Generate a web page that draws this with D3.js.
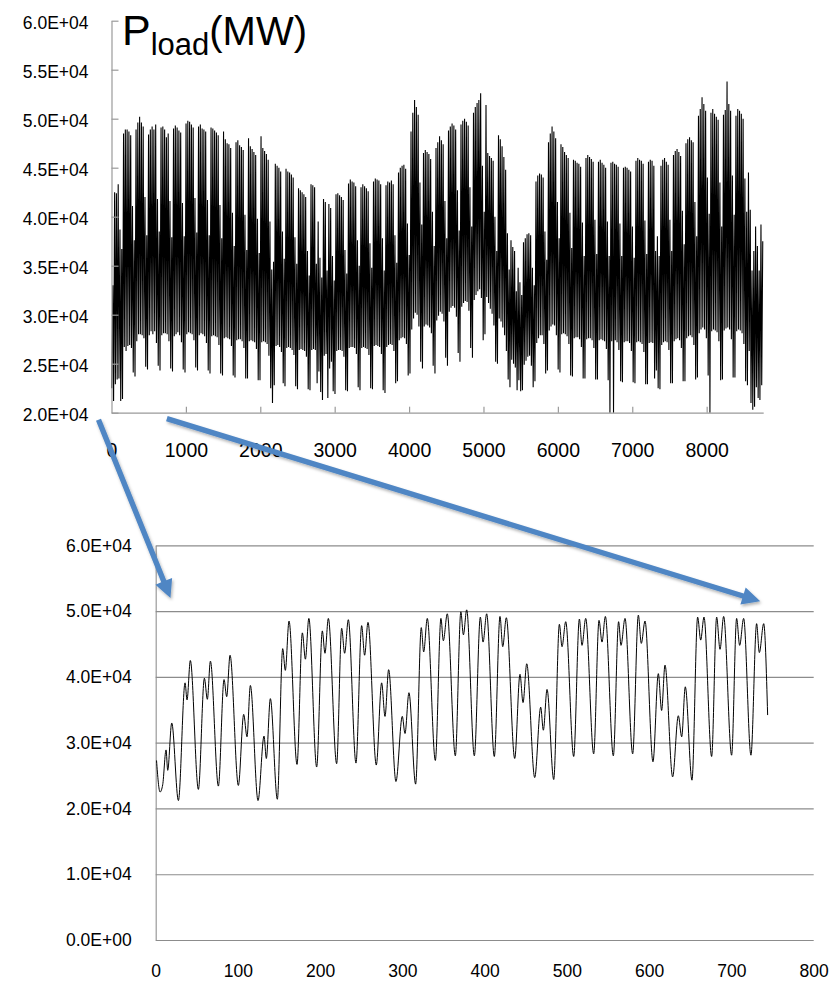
<!DOCTYPE html>
<html>
<head>
<meta charset="utf-8">
<script src="https://cdn.jsdelivr.net/npm/d3@7"></script>
<style>
  html, body { margin: 0; padding: 0; background: #fff; }
  svg { display: block; }
  text { font-family: "Liberation Sans", Arial, Helvetica, sans-serif; fill: #000; }
</style>
</head>
<body>
<svg id="chart" width="831" height="990"></svg>
<script>
// ---------------------------------------------------------------
// January detail: hour of the month and load (MW) at each daily
// trough, morning peak, midday dip and evening peak.
// ---------------------------------------------------------------
const janHour = [
  1, 5.3, 8.5, 12.6, 14.6, 19.5,
  27.6, 35.7, 38.1, 42.1,
  51.9, 59.2, 62.8, 66.5,
  76.2, 83.1, 86.3, 90.4,
  100.5, 107.0, 111.0, 115.1,
  124.4, 131.7, 134.5, 139.4,
  147.9, 154.4, 157.6, 162.1,
  171.8, 178.3, 182.0, 186.2,
  195.7, 202.6, 205.8, 209.9,
  220.0, 226.1, 229.7, 234.2,
  243.5, 250.4, 254.0, 258.1,
  268.2, 274.7, 278.8, 283.2,
  292.1, 299.8, 303.1, 307.9,
  316.0, 322.9, 325.8, 330.2,
  340.0, 346.8, 349.7, 354.5,
  364.3, 371.0, 374.1, 378.1,
  387.4, 394.7, 398.0, 402.4,
  411.7, 418.6, 421.9, 426.3,
  436.5, 442.9, 446.6, 451.1,
  460.8, 468.1, 471.3, 475.8,
  483.9, 490.8, 494.0, 498.5,
  508.2, 515.1, 518.3, 522.8,
  532.5, 539.0, 542.6, 546.7,
  556.4, 562.8, 565.7, 570.6,
  579.9, 586.8, 590.4, 594.9,
  604.6, 611.1, 615.1, 619.2,
  628.5, 635.4, 639.5, 643.9,
  652.0, 658.9, 662.6, 666.6,
  675.9, 682.0, 686.1, 690.5,
  700.2, 706.3, 710.0, 714.8,
  723.7, 730.6, 733.9, 739.2,
  744
];
const janLoad = [
  27300, 22500, 23600, 28900, 25800, 33000,
  21200, 39100, 36500, 42500,
  22900, 39800, 36600, 42400,
  23400, 39600, 37000, 43300,
  23500, 34300, 30900, 38700,
  21200, 31000, 27600, 36700,
  21400, 44300, 41000, 48500,
  26700, 46700, 42700, 48900,
  26300, 47000, 43600, 48900,
  26800, 47400, 43600, 48700,
  26900, 47800, 43300, 48300,
  26600, 39100, 34000, 41100,
  24100, 34000, 31400, 37600,
  23700, 47500, 43800, 48900,
  27300, 48900, 45500, 49600,
  28000, 49900, 46400, 50200,
  28000, 49100, 45300, 49600,
  27900, 49200, 44600, 49000,
  27600, 40400, 36100, 42000,
  24700, 35400, 31900, 38100,
  24400, 48000, 44600, 48400,
  27900, 48800, 44800, 48900,
  28300, 48600, 45300, 49200,
  28000, 48400, 44800, 48900,
  28300, 49400, 45100, 48500,
  27100, 40500, 34900, 41800,
  24800, 34100, 30900, 38500,
  24300, 49100, 45600, 49100,
  27900, 49100, 44200, 49200,
  28100, 48900, 44800, 48900,
  28100, 48100, 43700, 48100,
  34200
];

// ---------------------------------------------------------------
// Whole year, one value per day (1 Jan .. 31 Dec), MW.
// First row Tue 1 Jan .. Sun 6 Jan, then Monday..Sunday rows.
// ---------------------------------------------------------------
const dayPeak = [
  33000, 42500, 42400, 43300, 38700, 36700,
  48500, 48900, 48900, 48700, 48300, 41100, 37600,
  48900, 49600, 50200, 49600, 49200, 42000, 38100,
  48400, 48900, 49200, 48900, 49400, 41800, 38500,
  49100, 49200, 48900, 48100, 48500, 41600, 37900,
  49000, 49300, 49100, 48800, 48600, 41400, 38000,
  49500, 49800, 49700, 49400, 49100, 41900, 38400,
  49200, 49400, 49000, 48900, 48700, 41700, 38100,
  49100, 49000, 48800, 48600, 48300, 41200, 37800,
  48700, 47900, 47500, 47400, 47000, 40400, 37000,
  47600, 47800, 47300, 47100, 46800, 40200, 36600,
  48000, 47200, 46900, 46600, 46300, 39800, 36300,
  48200, 47000, 46700, 46400, 45800, 39500, 34600,
  35400, 45400, 45200, 45000, 44600, 38500, 35700,
  44900, 44600, 44500, 44300, 44000, 37900, 35200,
  42900, 42700, 42500, 42300, 42000, 36500, 34000,
  43300, 43200, 43000, 35200, 39500, 35800, 33800,
  41800, 41500, 34500, 41300, 40900, 36000, 33500,
  42300, 42400, 42200, 42000, 41700, 36600, 34200,
  43400, 43800, 43600, 43500, 43100, 37600, 35000,
  43000, 43300, 43100, 42900, 42600, 37300, 34800,
  43600, 43900, 43800, 43700, 43300, 37800, 34500,
  43200, 43600, 43500, 43700, 43300, 38100, 35300,
  44500, 45000, 45200, 45300, 44900, 39300, 36100,
  48700, 50600, 51900, 51200, 50400, 43500, 39200,
  46500, 46800, 46600, 46400, 45900, 40500, 37000,
  47000, 47600, 48200, 47800, 47400, 41600, 37800,
  48800, 49200, 49500, 49300, 48900, 42700, 38600,
  49400, 49800, 50000, 49700, 49300, 43000, 39000,
  50600, 51200, 51600, 51900, 52600, 45200, 40500,
  51400, 46500, 46200, 46000, 45700, 40000, 36500,
  48300, 47900, 47200, 46100, 44800, 38300, 34600,
  37600, 36900, 36500, 32400, 34800, 33300, 32000,
  37400, 37800, 38200, 38300, 38100, 34800, 33000,
  43600, 44200, 44400, 44300, 44000, 38500, 35600,
  47600, 48500, 49200, 48700, 48000, 41500, 37800,
  47400, 47100, 46600, 46300, 46000, 40400, 36800,
  45800, 45700, 45500, 45400, 45100, 39400, 36000,
  46000, 46300, 46100, 45900, 45600, 39700, 36200,
  45600, 45800, 45500, 45300, 45000, 39500, 36000,
  45500, 45600, 45400, 45300, 45100, 39300, 36000,
  45000, 45100, 45000, 44800, 44600, 39000, 35800,
  45700, 46000, 45800, 45700, 45400, 39600, 36200,
  45600, 45800, 45700, 45200, 36500, 38000, 36000,
  45200, 45800, 46000, 45600, 45300, 39700, 36500,
  46300, 46700, 46900, 46600, 46200, 40600, 37200,
  47500, 47900, 48100, 47800, 47600, 41500, 38000,
  50300, 51000, 52200, 51500, 50800, 44000, 40300,
  50600, 51000, 50500, 50200, 49900, 43500, 39000,
  50400, 50900, 53800, 51500, 50800, 44200, 40200,
  50300, 51000, 50800, 50500, 50000, 43900, 40500,
  44500, 40700, 34500, 36500, 39000, 37000, 34500,
  39200, 37500
];
const dayTrough = [
  22500, 21200, 22900, 23400, 23500, 21200,
  21400, 26700, 26300, 26800, 26900, 26600, 24100,
  23700, 27300, 28000, 28000, 27900, 27600, 24700,
  24400, 27900, 28300, 28000, 28300, 27100, 24800,
  24300, 27900, 28100, 28100, 28000, 27300, 24500,
  24200, 27800, 28000, 28200, 27900, 27200, 24400,
  24100, 28000, 28200, 28100, 28000, 27400, 24600,
  24300, 27900, 28100, 28000, 27800, 27100, 24300,
  24000, 27800, 27900, 27800, 27700, 26900, 24000,
  23800, 27600, 27700, 27600, 27500, 26800, 23800,
  23600, 27400, 27500, 27500, 27300, 26600, 23500,
  23500, 27300, 27400, 27300, 27200, 26500, 23300,
  23300, 27200, 27300, 27200, 27000, 25800, 22500,
  21000, 22800, 26800, 26900, 26700, 26200, 23000,
  22700, 26600, 26700, 26600, 26400, 25900, 22700,
  22400, 26400, 26500, 26400, 26300, 25700, 22400,
  22300, 26400, 26500, 26400, 23000, 24200, 22100,
  21300, 25800, 26000, 21500, 24500, 25200, 22200,
  21900, 26300, 26400, 26400, 26300, 25700, 22300,
  22200, 26600, 26700, 26700, 26600, 26000, 22600,
  22300, 26600, 26700, 26600, 26500, 25900, 22500,
  22400, 26800, 26900, 26800, 26700, 26000, 22300,
  22000, 26700, 26900, 27000, 26900, 26300, 23000,
  23200, 27400, 27600, 27700, 27600, 27000, 23800,
  24000, 28500, 29600, 30200, 30000, 28800, 25200,
  24500, 28800, 29000, 28900, 28700, 28100, 24800,
  24000, 29400, 29900, 30300, 30100, 29300, 25600,
  24800, 30300, 30700, 30900, 30700, 29800, 26100,
  25200, 30800, 31200, 31400, 31300, 30400, 26600,
  25600, 31500, 32000, 32400, 32600, 31700, 27400,
  28000, 31800, 31200, 30600, 30100, 28900, 25200,
  25000, 29600, 29300, 28700, 27900, 26300, 23400,
  22600, 25400, 25000, 24600, 22300, 23300, 22200,
  22300, 24900, 25300, 25700, 25800, 24800, 22600,
  23200, 27100, 27600, 27900, 27900, 27000, 24000,
  24300, 28400, 28800, 29000, 28900, 27900, 24400,
  24100, 28000, 28100, 28000, 27800, 27000, 23800,
  23700, 27600, 27700, 27700, 27500, 26700, 23500,
  23500, 27500, 27600, 27600, 27400, 26600, 23400,
  23400, 27400, 27500, 27400, 27300, 26500, 23300,
  20000, 27300, 20000, 27400, 27200, 26400, 23200,
  23100, 27200, 27300, 27300, 27100, 26300, 23100,
  23000, 27200, 27300, 27200, 27000, 26200, 22900,
  22900, 27100, 27200, 27100, 23500, 24300, 22500,
  22400, 26900, 27200, 27300, 27200, 26400, 23000,
  23000, 27300, 27500, 27600, 27400, 26600, 23200,
  23200, 27600, 27800, 27900, 27700, 26900, 23400,
  23600, 28100, 28500, 28700, 28500, 27600, 23800,
  20000, 28300, 28500, 28400, 28200, 27300, 23300,
  23400, 28400, 28600, 28700, 28500, 27500, 23600,
  23600, 28300, 28500, 28400, 28100, 27000, 23200,
  22800, 26300, 21000, 20300, 20600, 22600, 21500,
  21300, 22800
];

// Axis tick values
const yearYTicks = [20000, 25000, 30000, 35000, 40000, 45000, 50000, 55000, 60000];
const yearXTicks = [0, 1000, 2000, 3000, 4000, 5000, 6000, 7000, 8000];
const janYTicks  = [0, 10000, 20000, 30000, 40000, 50000, 60000];
const janXTicks  = [0, 100, 200, 300, 400, 500, 600, 700, 800];

// Hour of day at which each daily trough / peak is placed
const TROUGH_HOUR = 4, PEAK_HOUR = 18;

// Excel-like scientific label, e.g. 6.0E+04
function sci(v) {
  if (v === 0) return "0.0E+00";
  const e = Math.floor(Math.log10(Math.abs(v)));
  const m = v / Math.pow(10, e);
  return m.toFixed(1) + "E" + (e >= 0 ? "+" : "-") + String(Math.abs(e)).padStart(2, "0");
}

const svg = d3.select("#chart");
const defs = svg.append("defs");
const sh = defs.append("filter").attr("id", "shadow")
  .attr("x", "-20%").attr("y", "-20%").attr("width", "140%").attr("height", "140%");
sh.append("feDropShadow").attr("dx", 1.2).attr("dy", 2).attr("stdDeviation", 1.4)
  .attr("flood-color", "#000").attr("flood-opacity", 0.3);
const shLight = defs.append("filter").attr("id", "shadowLight")
  .attr("x", "-5%").attr("y", "-200%").attr("width", "110%").attr("height", "500%");
shLight.append("feDropShadow").attr("dx", 0.5).attr("dy", 2).attr("stdDeviation", 1.2)
  .attr("flood-color", "#000").attr("flood-opacity", 0.18);

const AXIS_GREY = "#9a9a9a";

// ================= Year panel =================
const xYear = d3.scaleLinear().domain([0, 8760]).range([111.5, 763.2]);
const yYear = d3.scaleLinear().domain([20000, 60000]).range([412.7, 20.7]);

const yearPts = [];
dayPeak.forEach((p, d) => {
  yearPts.push([d * 24 + TROUGH_HOUR, dayTrough[d]]);
  yearPts.push([d * 24 + PEAK_HOUR, p]);
});

const gYear = svg.append("g");

gYear.append("path")
  .datum(yearPts)
  .attr("fill", "none")
  .attr("stroke", "#000")
  .attr("stroke-width", 1.1)
  .attr("d", d3.line().x(d => xYear(d[0])).y(d => yYear(d[1])));

const yAxisYear = gYear.append("g")
  .attr("transform", `translate(${xYear(0)},0)`)
  .call(d3.axisLeft(yYear).tickValues(yearYTicks).tickSize(-7).tickSizeOuter(0)
    .tickPadding(23).tickFormat(sci));
const xAxisYear = gYear.append("g")
  .attr("transform", `translate(0,${yYear(20000)})`)
  .call(d3.axisBottom(xYear).tickValues(yearXTicks).tickSize(-6).tickSizeOuter(0)
    .tickPadding(30).tickFormat(d3.format("d")));
[yAxisYear, xAxisYear].forEach(g => {
  g.select(".domain").attr("stroke", AXIS_GREY).attr("stroke-width", 1.2);
  g.selectAll(".tick line").attr("stroke", AXIS_GREY).attr("stroke-width", 1.2);
  g.selectAll("text").attr("fill", "#000").attr("font-family", null);
});
yAxisYear.selectAll("text").attr("font-size", 17.5).attr("dy", "0.45em");
xAxisYear.selectAll("text").attr("font-size", 19.5);
xAxisYear.selectAll(".tick").filter(d => d === 0).select("line").remove();

// Title
const title = gYear.append("text").attr("x", 122).attr("y", 45);
title.append("tspan").attr("font-size", 43).text("P");
title.append("tspan").attr("font-size", 31).attr("dy", 10).text("load");
title.append("tspan").attr("font-size", 40).attr("dy", -10).text("(MW)");

// Dashed guides
const guideTop = 54150, guideBottom = 17620;
svg.append("line")
  .attr("x1", 173).attr("x2", 831)
  .attr("y1", yYear(guideTop)).attr("y2", yYear(guideTop))
  .attr("stroke", "#5b9bd5").attr("stroke-width", 1.6).attr("stroke-dasharray", "5 2.4")
  .attr("filter", "url(#shadowLight)");
svg.append("line")
  .attr("x1", 643).attr("x2", 831)
  .attr("y1", yYear(guideBottom)).attr("y2", yYear(guideBottom))
  .attr("stroke", "#5b9bd5").attr("stroke-width", 1.6).attr("stroke-dasharray", "5 2.4")
  .attr("filter", "url(#shadowLight)");

// ================= January panel =================
const xJan = d3.scaleLinear().domain([0, 800]).range([155.7, 813.7]);
const yJan = d3.scaleLinear().domain([0, 60000]).range([940, 545.4]);

const gJan = svg.append("g");
const yAxisJan = gJan.append("g")
  .attr("transform", `translate(${xJan(0)},0)`)
  .call(d3.axisLeft(yJan).tickValues(janYTicks)
    .tickSize(-(xJan(800) - xJan(0))).tickSizeOuter(0).tickPadding(24).tickFormat(sci));
yAxisJan.select(".domain").attr("stroke", AXIS_GREY).attr("stroke-width", 1.2);
yAxisJan.selectAll(".tick line").attr("stroke", "#8c8c8c").attr("stroke-width", 1.2);
yAxisJan.selectAll("text").attr("font-size", 17.5).attr("font-family", null).attr("fill", "#000");

const xAxisJan = gJan.append("g")
  .attr("transform", `translate(0,${yJan(0)})`)
  .call(d3.axisBottom(xJan).tickValues(janXTicks).tickSize(0).tickPadding(25)
    .tickFormat(d3.format("d")));
xAxisJan.select(".domain").remove();
xAxisJan.selectAll("text").attr("font-size", 17.5).attr("font-family", null).attr("fill", "#000");

gJan.append("path")
  .datum(janHour.map((h, i) => [h, janLoad[i]]))
  .attr("fill", "none")
  .attr("stroke", "#000")
  .attr("stroke-width", 1)
  .attr("d", d3.line().curve(d3.curveMonotoneX).x(d => xJan(d[0])).y(d => yJan(d[1])));

// ================= Zoom arrows =================
function arrow(x1, y1, x2, y2) {
  const a = Math.atan2(y2 - y1, x2 - x1);
  const L = Math.hypot(x2 - x1, y2 - y1);
  const headL = 18, headW = 9, shaftW = 2.7;
  const pts = [
    [0, -shaftW], [L - headL, -shaftW], [L - headL, -headW], [L, 0],
    [L - headL, headW], [L - headL, shaftW], [0, shaftW]
  ].map(([u, v]) => [x1 + u * Math.cos(a) - v * Math.sin(a), y1 + u * Math.sin(a) + v * Math.cos(a)]);
  svg.append("polygon")
    .attr("points", pts.map(p => p.join(",")).join(" "))
    .attr("fill", "#4f86c4")
    .attr("filter", "url(#shadow)");
}
arrow(xYear(0) - 13, yYear(20000) + 7, xJan(18), yJan(52000));
arrow(xYear(744), yYear(20000) + 6, xJan(735), yJan(51500));
</script>
</body>
</html>
